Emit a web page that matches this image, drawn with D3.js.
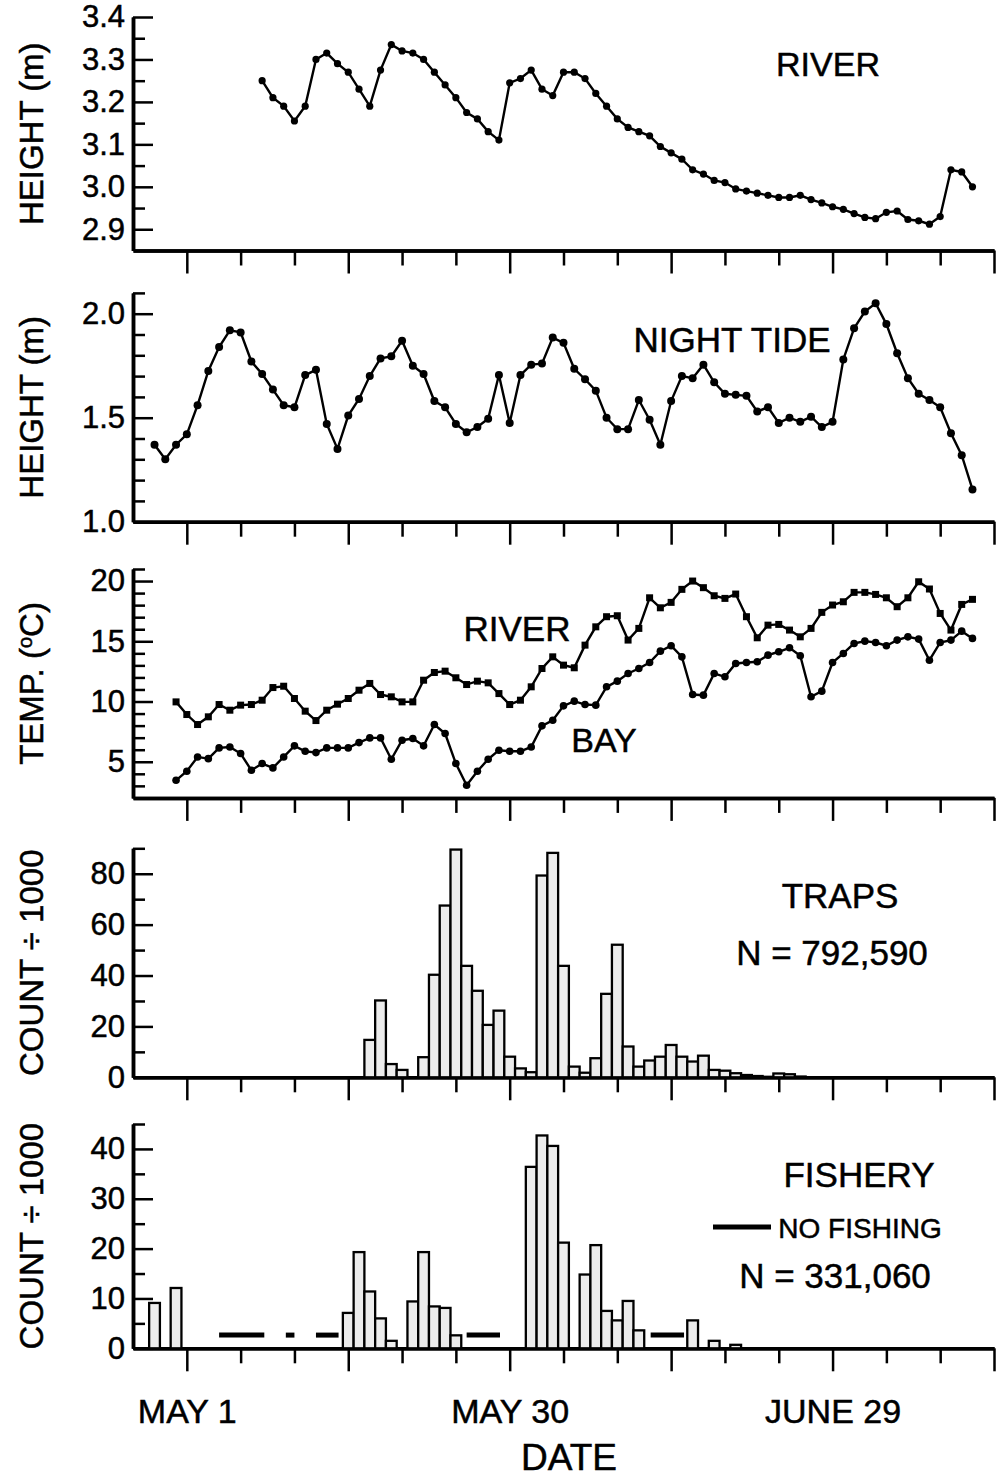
<!DOCTYPE html>
<html>
<head>
<meta charset="utf-8">
<script src="https://cdn.jsdelivr.net/npm/d3@7/dist/d3.min.js"></script>
<style>
  body { margin: 0; background: white; }
  svg { display: block; }
  text { font-family: "Liberation Sans", Arial, sans-serif; fill: black; stroke: black; stroke-width: 0.5px; }
</style>
</head>
<body>
<div id="container"></div>
<script>
let w = 997;
let h = 1477;

// DATA (days counted from May 1 = 0)
let riverHeightStart = 7;
let riverHeight = [3.25,3.21,3.19,3.155,3.19,3.30,3.315,3.29,3.27,3.23,
  3.19,3.275,3.335,3.32,3.315,3.30,3.27,3.24,3.21,3.175,
  3.16,3.13,3.11,3.245,3.255,3.275,3.23,3.215,3.27,3.27,
  3.255,3.22,3.19,3.16,3.14,3.13,3.12,3.095,3.08,3.065,
  3.04,3.03,3.015,3.01,2.995,2.99,2.985,2.98,2.975,2.975,
  2.98,2.97,2.962,2.953,2.947,2.937,2.928,2.925,2.94,2.943,
  2.923,2.92,2.912,2.93,3.04,3.035,3.0];

let nightTideStart = -3;
let nightTide = [1.37,1.30,1.37,1.42,1.56,1.725,1.84,1.92,1.91,1.77,
  1.71,1.635,1.56,1.55,1.705,1.73,1.47,1.35,1.51,1.59,
  1.70,1.785,1.795,1.87,1.75,1.71,1.58,1.55,1.47,1.43,
  1.455,1.495,1.705,1.475,1.705,1.755,1.76,1.885,1.86,1.735,
  1.685,1.63,1.50,1.445,1.445,1.585,1.49,1.37,1.58,1.70,
  1.69,1.755,1.67,1.615,1.61,1.605,1.53,1.55,1.475,1.50,
  1.48,1.505,1.455,1.48,1.78,1.93,2.01,2.05,1.95,1.81,
  1.69,1.615,1.585,1.55,1.425,1.32,1.155];

let tempStart = -1;
let riverTemp = [9.97,8.92,8.09,8.73,9.75,9.28,9.7,9.75,10.11,11.16,
  11.27,10.25,9.2,8.42,9.28,9.78,10.25,10.94,11.5,10.58,
  10.39,9.97,9.97,11.77,12.41,12.52,11.97,11.41,11.69,11.55,
  10.66,9.75,10.11,11.22,12.74,13.71,13.02,12.8,14.68,16.2,
  17.04,17.12,15.1,16.07,18.61,17.78,18.23,19.31,20.0,19.45,
  18.78,18.56,18.92,17.04,15.29,16.34,16.4,15.93,15.37,16.07,
  17.4,18.01,18.28,19.06,19.06,18.89,18.61,17.87,18.61,19.94,
  19.34,17.31,15.93,18.06,18.48];
let bayTemp = [3.46,4.21,5.4,5.26,6.15,6.23,5.68,4.29,4.85,4.49,
  5.4,6.32,5.87,5.76,6.15,6.15,6.15,6.59,6.98,6.98,
  5.21,6.79,6.93,6.32,8.09,7.34,4.85,3.05,4.21,5.21,
  5.96,5.87,5.87,6.23,7.98,8.45,9.64,10.03,9.75,9.7,
  11.22,11.69,12.33,12.74,13.24,14.18,14.63,13.71,10.58,10.53,
  12.33,12.05,13.16,13.24,13.3,13.85,14.13,14.46,13.8,10.39,
  10.86,13.24,13.99,14.82,15.01,14.9,14.63,15.1,15.37,15.18,
  13.43,14.9,15.1,15.84,15.24];

let trapDays = [17,18,19,20,22,23,24,25,26,27,28,29,30,31,32,33,34,35,36,37,38,39,40,
  41,42,43,44,45,46,47,48,49,50,51,52,53,54,55,56,57];
let trapCounts = [14.7,30.2,5.2,2.9,7.9,40.3,67.5,89.5,43.8,34.0,20.6,26.2,8.1,3.5,2.0,79.3,88.2,43.8,4.2,1.8,7.5,32.8,52.1,
  12.1,4.2,6.6,8.1,12.7,8.1,6.2,8.5,2.9,2.6,1.6,0.9,0.5,0.2,1.5,1.2,0.3];

let fishDays = [-3,-1,15,16,17,18,19,21,22,23,24,25,32,33,34,35,37,38,39,40,41,42,47,49,51];
let fishCounts = [9.1,12.1,7.1,19.3,11.4,6.0,1.5,9.4,19.3,8.4,8.1,2.6,36.4,42.7,40.6,21.2,14.8,20.7,7.5,5.6,9.5,3.6,5.6,1.5,0.7];

let noFishStart = [3,9.2,12,26,43.1];
let noFishEnd = [7.2,10,14.1,29.1,46.2];
let noFishLevel = 2.65;

let xMajor = [0,15,30,45,60,75];
let xMinor = [5,10,20,25,35,40,50,55,65,70];
let xLabels = {0: "MAY 1", 30: "MAY 30", 60: "JUNE 29"};

// SVG
let viz = d3.select("#container").append("svg")
    .attr("width", w)
    .attr("height", h)
    .style("background-color", "white");

let xScale = d3.scaleLinear().domain([-5, 75]).range([133, 994]);

let panels = [
  {top: 17, bottom: 250.5, domain: [2.85, 3.4], major: [2.9,3.0,3.1,3.2,3.3,3.4],
   minor: [2.95,3.05,3.15,3.25,3.35], fmt: d3.format(".1f"), title: "HEIGHT (m)"},
  {top: 292.9, bottom: 521.7, domain: [1.0, 2.1], major: [1.0,1.5,2.0],
   minor: [1.1,1.2,1.3,1.4,1.6,1.7,1.8,1.9,2.1], fmt: d3.format(".1f"), title: "HEIGHT (m)"},
  {top: 569, bottom: 797.9, domain: [2, 21], major: [5,10,15,20],
   minor: [3,4,6,7,8,9,11,12,13,14,16,17,18,19,21], fmt: d3.format("d"), title: "TEMP."},
  {top: 848.3, bottom: 1077.3, domain: [0, 90], major: [0,20,40,60,80],
   minor: [10,30,50,70,90], fmt: d3.format("d"), title: "COUNT \u00f7 1000"},
  {top: 1124, bottom: 1348.3, domain: [0, 45], major: [0,10,20,30,40],
   minor: [5,15,25,35,45], fmt: d3.format("d"), title: "COUNT \u00f7 1000"}
];

panels.forEach(function(p, i){
  p.y = d3.scaleLinear().domain(p.domain).range([p.bottom, p.top]);
  let g = viz.append("g");

  // y axis: minor then major ticks, pointing inward
  g.append("g").attr("class", "ax")
    .attr("transform", "translate(" + xScale.range()[0] + ",0)")
    .call(d3.axisLeft(p.y).tickValues(p.minor).tickSizeInner(-12).tickSizeOuter(0).tickFormat(""));
  g.append("g").attr("class", "ax")
    .attr("transform", "translate(" + xScale.range()[0] + ",0)")
    .call(d3.axisLeft(p.y).tickValues(p.major).tickSizeInner(-20).tickSizeOuter(0)
      .tickPadding(8).tickFormat(p.fmt));

  // x axis
  let last = (i == panels.length - 1);
  g.append("g").attr("class", "ax")
    .attr("transform", "translate(0," + p.bottom + ")")
    .call(d3.axisBottom(xScale).tickValues(xMinor).tickSizeInner(15).tickSizeOuter(0).tickFormat(""));
  g.append("g").attr("class", "ax xmaj")
    .attr("transform", "translate(0," + p.bottom + ")")
    .call(d3.axisBottom(xScale).tickValues(xMajor).tickSizeInner(23).tickSizeOuter(0)
      .tickPadding(28).tickFormat(function(d){ return last ? (xLabels[d] || "") : ""; }));

  // axis title
  let t = g.append("text")
    .attr("transform", "translate(43," + ((p.top + p.bottom) / 2) + ") rotate(-90)")
    .attr("text-anchor", "middle")
    .style("font-size", "33px")
    .text(p.title);
  if (i == 2) {
    t.append("tspan").text(" (");
    t.append("tspan").attr("dy", -11).style("font-size", "20px").text("o");
    t.append("tspan").attr("dy", 11).text("C)");
  }
});

viz.selectAll(".ax path").attr("stroke", "black").attr("stroke-width", 3.5);
viz.selectAll(".ax line").attr("stroke", "black").attr("stroke-width", 2.5);
viz.selectAll(".ax text").attr("font-family", "Liberation Sans, Arial, sans-serif")
  .attr("font-size", 31).attr("fill", "black");
viz.selectAll(".xmaj text").attr("font-size", 34);

function series(start, vals) {
  return vals.map(function(v, i){ return {day: start + i, v: v}; });
}

function drawLine(p, data) {
  let lineMaker = d3.line()
    .x(function(d){ return xScale(d.day); })
    .y(function(d){ return p.y(d.v); });
  viz.append("path")
    .datum(data)
    .attr("d", lineMaker)
    .attr("fill", "none")
    .attr("stroke", "black")
    .attr("stroke-width", 2.4);
}

function drawDots(p, data, r) {
  viz.append("g").selectAll("circle").data(data).enter()
    .append("circle")
      .attr("cx", function(d){ return xScale(d.day); })
      .attr("cy", function(d){ return p.y(d.v); })
      .attr("r", r)
      .attr("fill", "black");
}

function drawSquares(p, data, s) {
  viz.append("g").selectAll("rect").data(data).enter()
    .append("rect")
      .attr("x", function(d){ return xScale(d.day) - s / 2; })
      .attr("y", function(d){ return p.y(d.v) - s / 2; })
      .attr("width", s)
      .attr("height", s)
      .attr("fill", "black");
}

function drawBars(p, days, counts) {
  let data = days.map(function(d, i){ return {day: d, v: counts[i]}; });
  viz.append("g").selectAll("rect").data(data).enter()
    .append("rect")
      .attr("x", function(d){ return xScale(d.day - 0.5); })
      .attr("y", function(d){ return p.y(d.v); })
      .attr("width", function(d){ return xScale(d.day + 0.5) - xScale(d.day - 0.5); })
      .attr("height", function(d){ return p.y(0) - p.y(d.v); })
      .attr("fill", "#ececec")
      .attr("stroke", "black")
      .attr("stroke-width", 2.3);
}

// panel 1: river height
let d1 = series(riverHeightStart, riverHeight);
drawLine(panels[0], d1);
drawDots(panels[0], d1, 3.6);

// panel 2: night tide
let d2 = series(nightTideStart, nightTide);
drawLine(panels[1], d2);
drawDots(panels[1], d2, 4);

// panel 3: temperatures
let d3r = series(tempStart, riverTemp);
let d3b = series(tempStart, bayTemp);
drawLine(panels[2], d3r);
drawSquares(panels[2], d3r, 7);
drawLine(panels[2], d3b);
drawDots(panels[2], d3b, 3.8);

// panel 4: traps
drawBars(panels[3], trapDays, trapCounts);

// panel 5: fishery
drawBars(panels[4], fishDays, fishCounts);
viz.append("g").selectAll("line").data(noFishStart).enter()
  .append("line")
    .attr("x1", function(d){ return xScale(d); })
    .attr("x2", function(d, i){ return xScale(noFishEnd[i]); })
    .attr("y1", panels[4].y(noFishLevel))
    .attr("y2", panels[4].y(noFishLevel))
    .attr("stroke", "black")
    .attr("stroke-width", 5);

// redraw axis lines on top of the bars
viz.selectAll(".ax").raise();

// labels
function label(txt, cx, base, size) {
  return viz.append("text")
    .attr("x", cx)
    .attr("y", base)
    .attr("text-anchor", "middle")
    .style("font-size", size + "px")
    .text(txt);
}
label("RIVER", 828, 76, 34);
label("NIGHT TIDE", 732, 352, 35);
label("RIVER", 517, 641, 35);
label("BAY", 604, 752, 34);
label("TRAPS", 840, 908, 35);
label("N = 792,590", 832, 965, 35);
label("FISHERY", 859, 1187, 35);
label("NO FISHING", 860, 1238, 28);
label("N = 331,060", 835, 1288, 35);
label("DATE", 569, 1470, 37);

viz.append("line")
  .attr("x1", 713).attr("x2", 771)
  .attr("y1", 1227).attr("y2", 1227)
  .attr("stroke", "black")
  .attr("stroke-width", 5);
</script>
</body>
</html>
